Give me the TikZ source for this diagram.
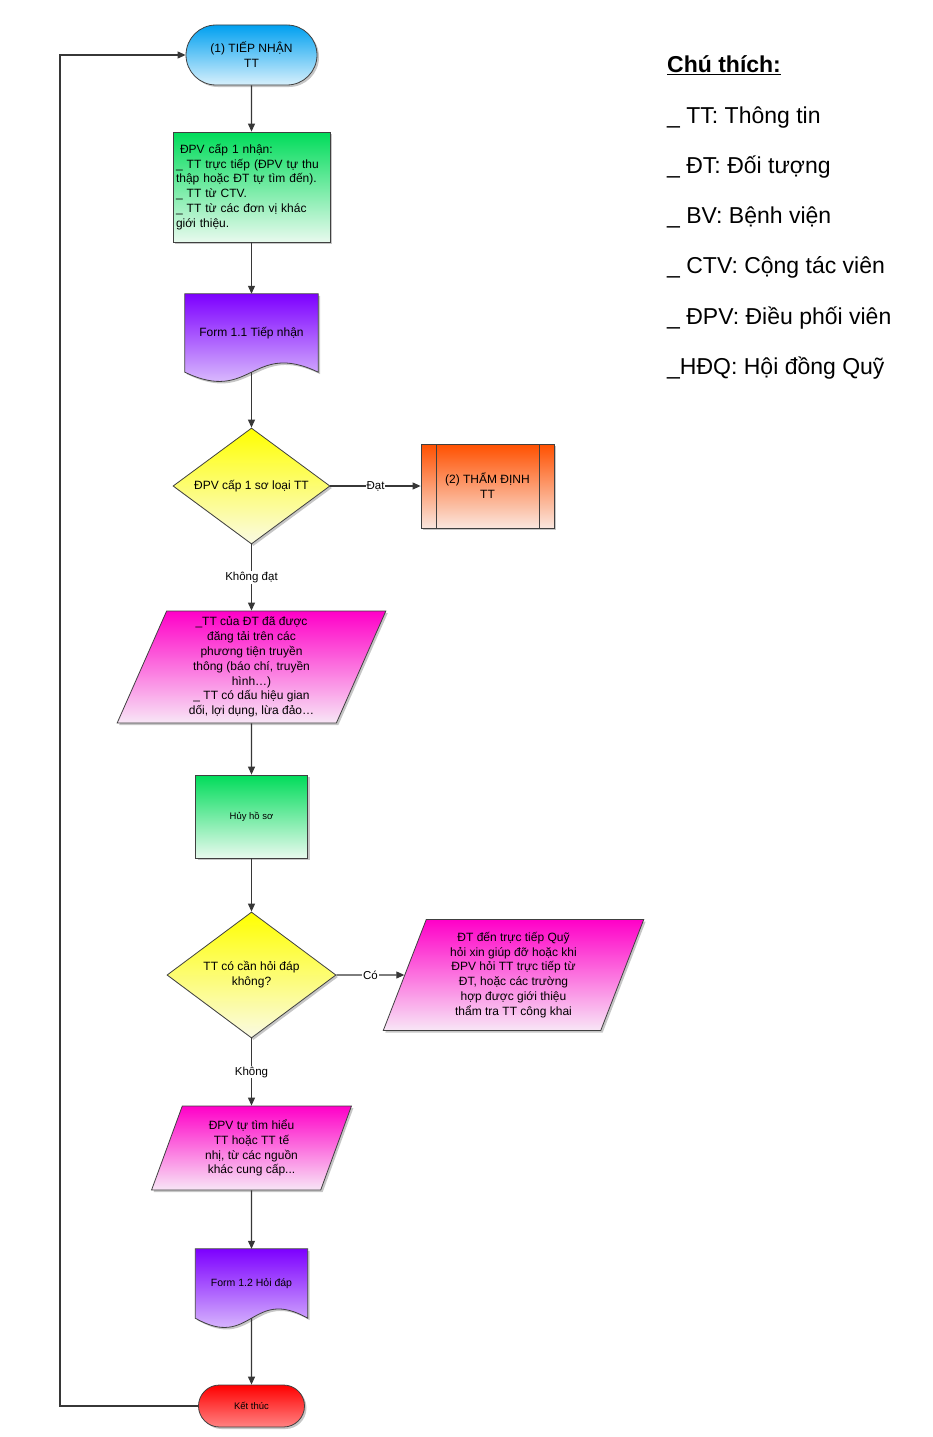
\documentclass[tikz,border=0pt]{standalone}
\usepackage{fontspec}
\setmainfont{Liberation Sans}
\usetikzlibrary{shapes.geometric,shapes.misc,shadows,arrows.meta,calc,backgrounds}

\definecolor{cyanT}{RGB}{0,160,240}
\definecolor{cyanB}{RGB}{215,240,252}
\definecolor{greenT}{RGB}{0,220,90}
\definecolor{greenB}{RGB}{232,250,238}
\definecolor{purpT}{RGB}{125,0,255}
\definecolor{purpB}{RGB}{240,232,252}
\definecolor{yelT}{RGB}{255,255,0}
\definecolor{yelB}{RGB}{250,250,228}
\definecolor{orT}{RGB}{255,80,0}
\definecolor{orB}{RGB}{250,230,222}
\definecolor{magT}{RGB}{255,0,200}
\definecolor{magB}{RGB}{248,230,246}
\definecolor{redT}{RGB}{255,0,0}
\definecolor{redB}{RGB}{255,130,130}
\definecolor{lineC}{RGB}{55,55,55}

\newcommand{\docshape}[3]{%
  \shade [draw=black!75,line width=0.8pt,top color=#2,bottom color=#3,
    drop shadow={shadow xshift=2pt,shadow yshift=-2pt,opacity=.45}]
    (#1.north west) -- (#1.north east) -- (#1.south east)
    .. controls ($(#1.south)+(0,-32)$) and ($(#1.south)+(0,32)$) .. (#1.south west) -- cycle;}

\begin{document}
\begin{tikzpicture}[x=1pt,y=-1pt,
    box/.style={draw=black!75,line width=0.8pt,inner sep=3pt,align=center,
      font=\fontsize{12}{14.8}\selectfont,
      drop shadow={shadow xshift=2pt,shadow yshift=-2pt,opacity=.45}},
    term/.style={box,rounded rectangle},
    proc/.style={box,rectangle},
    dec/.style={box,diamond,inner sep=0pt,aspect=1.35},
    io/.style={box,trapezium,trapezium left angle=70,trapezium right angle=110,
      trapezium stretches=true,inner sep=0pt},
    predef/.style={box,rectangle,path picture={
      \draw [black!75,line width=0.8pt]
        ([xshift=15pt]path picture bounding box.north west) -- ([xshift=15pt]path picture bounding box.south west)
        ([xshift=-15pt]path picture bounding box.north east) -- ([xshift=-15pt]path picture bounding box.south east);}},
    doc/.style={inner sep=3pt,align=center,font=\fontsize{12}{14.8}\selectfont},
    arr/.style={draw=lineC,line width=1.1pt,-{Triangle[length=8pt,width=7pt]}},
    lbl/.style={fill=white,inner sep=1pt,font=\fontsize{11.5}{13}\selectfont},
    leg/.style={anchor=base west,inner sep=0pt,font=\fontsize{23}{27}\selectfont}]

  \useasboundingbox (0,0) rectangle (932,1437);

  \node [term,top color=cyanT,bottom color=cyanB,minimum width=137pt,minimum height=60pt] (start) at (251.5,55) {(1) TIẾP NHẬN\\TT};
  \node [proc,top color=greenT,bottom color=greenB,text width=151pt,align=left,minimum height=110pt] (recv) at (251.5,187)
    {\ ĐPV cấp 1 nhận:\\\_ TT trực tiếp (ĐPV tự thu\\thập hoặc ĐT tự tìm đến).\\\_ TT từ CTV.\\\_ TT từ các đơn vị khác\\giới thiệu.};
  \node [doc,minimum width=133pt,minimum height=78pt] (form1) at (251.5,333) {Form 1.1 Tiếp nhận};
  \node [dec,top color=yelT,bottom color=yelB,minimum width=157pt,minimum height=116pt] (diam1) at (251.5,486) {ĐPV cấp 1 sơ loại TT};
  \node [predef,top color=orT,bottom color=orB,minimum width=133pt,minimum height=84pt] (thamdinh) at (487.5,486) {(2) THẨM ĐỊNH\\TT};
  \node [io,top color=magT,bottom color=magB,minimum width=269pt,minimum height=112pt] (para1) at (251.5,667)
    {\_TT của ĐT đã được\\đăng tải trên các\\phương tiện truyền\\thông (báo chí, truyền\\hình…)\\\_ TT có dấu hiệu gian\\dối, lợi dụng, lừa đảo…};
  \node [proc,top color=greenT,bottom color=greenB,minimum width=112pt,minimum height=83pt,font=\fontsize{9.5}{12}\selectfont] (huy) at (251.5,816.5) {Hủy hồ sơ};
  \node [dec,top color=yelT,bottom color=yelB,minimum width=169pt,minimum height=126pt] (diam2) at (251.5,975) {TT có cần hỏi đáp\\không?};
  \node [io,top color=magT,bottom color=magB,minimum width=261pt,minimum height=111pt] (para2) at (513.5,975)
    {ĐT đến trực tiếp Quỹ\\hỏi xin giúp đỡ hoặc khi\\ĐPV hỏi TT trực tiếp từ\\ĐT, hoặc các trường\\hợp được giới thiệu\\thẩm tra TT công khai};
  \node [io,top color=magT,bottom color=magB,minimum width=200pt,minimum height=84pt] (para3) at (251.5,1148)
    {ĐPV tự tìm hiểu\\TT hoặc TT tế\\nhị, từ các nguồn\\khác cung cấp...};
  \node [doc,minimum width=112pt,minimum height=69pt,font=\fontsize{10.5}{13}\selectfont] (form2) at (251.5,1283.5) {Form 1.2 Hỏi đáp};
  \node [term,top color=redT,bottom color=redB,minimum width=112pt,minimum height=42pt,font=\fontsize{9.5}{12}\selectfont] (endn) at (251.5,1406) {Kết thúc};

  \begin{scope}[on background layer]
    \docshape{form1}{purpT}{purpB}
    \docshape{form2}{purpT}{purpB}
  \end{scope}

  \draw [arr] (start) -- (recv);
  \draw [arr] (recv) -- (form1);
  \draw [arr] (form1) -- (diam1);
  \draw [arr] (diam1) -- node [lbl] {Đạt} (thamdinh);
  \draw [arr] (diam1) -- node [lbl] {Không đạt} (para1);
  \draw [arr] (para1) -- (huy);
  \draw [arr] (huy) -- (diam2);
  \draw [arr] (diam2) -- node [lbl] {Có} (para2);
  \draw [arr] (diam2) -- node [lbl] {Không} (para3);
  \draw [arr] (para3) -- (form2);
  \draw [arr] (form2) -- (endn);
  \coordinate (loopc) at (60,1406);
  \draw [arr] (endn.west) -- (loopc) |- (start.west);

  % chu thich
  \node [leg,font=\fontsize{23}{27}\selectfont\bfseries] (legtitle) at (667,73) {\underline{Chú thích:}};
  \foreach \txt [count=\i] in {{\_ TT: Thông tin},{\_ ĐT: Đối tượng},{\_ BV: Bệnh viện},
      {\_ CTV: Cộng tác viên},{\_ ĐPV: Điều phối viên},{\_HĐQ: Hội đồng Quỹ}}
    \node [leg] (leg\i) at (667,73+50.2*\i) {\txt};
\end{tikzpicture}
\end{document}
